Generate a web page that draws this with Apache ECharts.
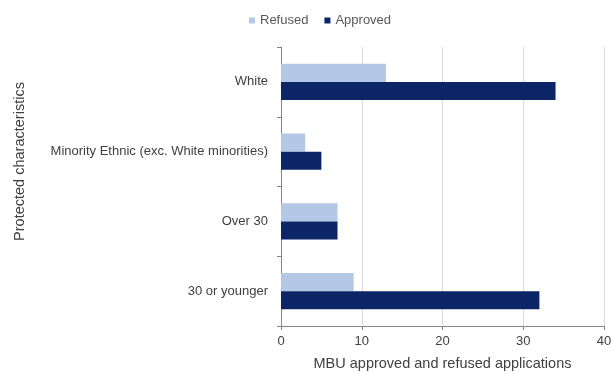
<!DOCTYPE html>
<html>
<head>
<meta charset="utf-8">
<script src="https://cdn.jsdelivr.net/npm/echarts@6/dist/echarts.min.js"></script>
<style>
  html, body { margin: 0; padding: 0; background: #fff; }
  #chart { width: 611px; height: 372px; }
</style>
</head>
<body>
<div id="chart"></div>
<script>
// categories from top to bottom
const categories = ['White', 'Minority Ethnic (exc. White minorities)', 'Over 30', '30 or younger'];
const refused = [13, 3, 7, 9];
const approved = [34, 5, 7, 32];
const xTicks = [0, 40, 10]; // min, max, interval

const chart = echarts.init(document.getElementById('chart'));
const txt = '#404040';

const option = {
  backgroundColor: '#fff',
  textStyle: { fontFamily: 'Liberation Sans, Arial, sans-serif' },
  legend: {
    top: 9,
    left: 244,
    itemWidth: 6,
    itemHeight: 6,
    itemGap: 16,
    itemStyle: { borderWidth: 0 },
    icon: 'rect',
    textStyle: { color: '#595959', fontSize: 13 },
    data: ['Refused', 'Approved']
  },
  grid: { left: 281, right: 7, top: 47, bottom: 46, outerBoundsMode: 'none' },
  xAxis: {
    type: 'value',
    min: xTicks[0],
    max: xTicks[1],
    interval: xTicks[2],
    name: 'MBU approved and refused applications',
    nameLocation: 'middle',
    nameGap: 30,
    nameTextStyle: { color: txt, fontSize: 14.5 },
    axisLine: { show: true, lineStyle: { color: '#868686' } },
    axisTick: { show: true, length: 4, lineStyle: { color: '#868686' } },
    axisLabel: { color: txt, fontSize: 13, margin: 9 },
    splitLine: { show: true, lineStyle: { color: '#d9d9d9' } }
  },
  yAxis: {
    type: 'category',
    inverse: true,
    data: categories,
    name: 'Protected characteristics',
    nameLocation: 'middle',
    nameGap: 254,
    nameTextStyle: { color: txt, fontSize: 14.5, padding: [0, 0, 0, 50] },
    axisLine: { show: true, lineStyle: { color: '#868686' } },
    axisTick: { show: true, length: 4, lineStyle: { color: '#868686' } },
    axisLabel: { color: txt, fontSize: 13, margin: 13 },
    splitLine: { show: false }
  },
  series: [
    {
      name: 'Refused',
      type: 'bar',
      data: refused,
      barCategoryGap: '48%',
      barGap: '0%',
      itemStyle: { color: '#b4c7e7' }
    },
    {
      name: 'Approved',
      type: 'bar',
      data: approved,
      barCategoryGap: '48%',
      barGap: '0%',
      itemStyle: { color: '#0b2566' }
    }
  ]
};
chart.setOption(option);
</script>
</body>
</html>
